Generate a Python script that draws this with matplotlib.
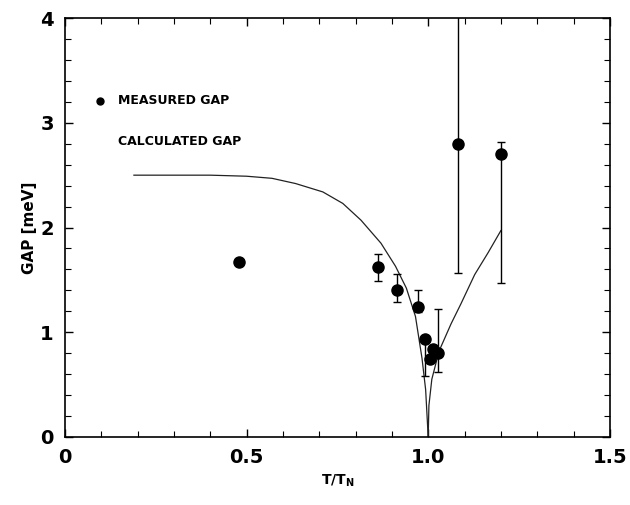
import matplotlib
matplotlib.use("Agg")
import matplotlib.pyplot as plt
from matplotlib.ticker import MultipleLocator

plt.rcParams['font.family'] = ['DejaVu Sans']

# measured gap (T/T_N, meV) with lower / upper error bar ends
t_meas = [0.48, 0.863, 0.915, 0.973, 0.99, 1.005, 1.013, 1.028, 1.083, 1.20]
gap_meas = [1.67, 1.62, 1.40, 1.24, 0.93, 0.74, 0.84, 0.80, 2.80, 2.70]
err_lo = [1.67, 1.49, 1.29, 1.19, 0.58, 0.74, 0.84, 0.62, 1.57, 1.47]
err_hi = [1.67, 1.75, 1.56, 1.40, 0.93, 0.74, 0.84, 1.22, 4.50, 2.82]

# calculated gap (two branches meeting at T_N)
t_calc_lo = [0.19, 0.30, 0.40, 0.50, 0.57, 0.635, 0.71, 0.765, 0.815, 0.87,
             0.91, 0.94, 0.965, 0.983, 0.993, 1.0]
gap_calc_lo = [2.50, 2.50, 2.50, 2.49, 2.47, 2.42, 2.34, 2.23, 2.07, 1.85,
               1.63, 1.42, 1.15, 0.75, 0.45, 0.0]
t_calc_hi = [1.0, 1.002, 1.01, 1.03, 1.063, 1.09, 1.128, 1.165, 1.2]
gap_calc_hi = [0.0, 0.30, 0.55, 0.82, 1.08, 1.27, 1.55, 1.76, 1.97]

fig = plt.figure(figsize=(6.3, 5.05), dpi=100)
ax = fig.add_axes([0.103, 0.135, 0.865, 0.829])

ax.plot(t_calc_lo, gap_calc_lo, color='#222222', lw=0.9)
ax.plot(t_calc_hi, gap_calc_hi, color='#222222', lw=0.9)

yerr = [[g - lo for g, lo in zip(gap_meas, err_lo)],
        [hi - g for g, hi in zip(gap_meas, err_hi)]]
ax.errorbar(t_meas, gap_meas, yerr=yerr, fmt='o', color='black', ms=8,
            ecolor='black', elinewidth=1.0, capsize=3, capthick=1.0)

# legend drawn as plain text like the original
ax.plot([0.096], [3.21], 'o', color='black', ms=5)
ax.text(0.146, 3.21, 'MEASURED GAP', fontsize=9, fontweight='bold',
        va='center', ha='left')
ax.text(0.146, 2.82, 'CALCULATED GAP', fontsize=9, fontweight='bold',
        va='center', ha='left')

ax.set_xlim(0, 1.5)
ax.set_ylim(0, 4)
ax.set_xticks([0, 0.5, 1.0, 1.5])
ax.set_xticklabels(['0', '0.5', '1.0', '1.5'])
ax.set_yticks([0, 1, 2, 3, 4])
ax.xaxis.set_minor_locator(MultipleLocator(0.1))
ax.yaxis.set_minor_locator(MultipleLocator(0.2))
ax.tick_params(which='both', direction='in', top=True, right=True)
ax.tick_params(which='major', length=6, width=1, labelsize=14, pad=8)
ax.tick_params(which='minor', length=4, width=0.8)
for lab in ax.get_xticklabels() + ax.get_yticklabels():
    lab.set_fontweight('bold')
for sp in ax.spines.values():
    sp.set_linewidth(1.2)

ax.set_xlabel(r'T/T$_\mathregular{N}$', fontsize=10, fontweight='bold', labelpad=4)
ax.set_ylabel('GAP [meV]', fontsize=11, fontweight='bold', labelpad=2)

fig.savefig('out.png', dpi=100)
